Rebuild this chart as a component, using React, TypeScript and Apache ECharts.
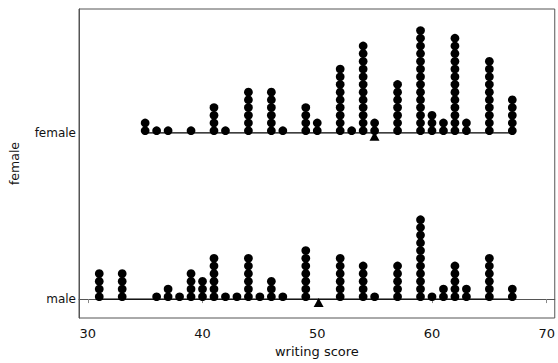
import React, { useEffect, useRef } from "react";
import * as echarts from "echarts";

const groups = ["male", "female"];
const femaleScores = [35, 36, 37, 39, 41, 42, 44, 46, 47, 49, 50, 52, 53, 54, 55, 57, 59, 60, 61, 62, 63, 65, 67];
const femaleCounts = [2, 1, 1, 1, 4, 1, 6, 6, 1, 4, 2, 9, 1, 12, 2, 7, 14, 3, 2, 13, 2, 10, 5];
const maleScores = [31, 33, 36, 37, 38, 39, 40, 41, 42, 43, 44, 45, 46, 47, 49, 52, 54, 55, 57, 59, 60, 61, 62, 63, 65, 67];
const maleCounts = [4, 4, 1, 2, 1, 4, 3, 6, 1, 1, 6, 1, 3, 1, 7, 6, 5, 1, 5, 11, 1, 2, 5, 2, 6, 2];
const groupMeans = [50.12, 54.99]; // male, female
const xTicks = [30, 40, 50, 60, 70];

// y axis in "dot step" units
const BASE = [0, 21.56]; // male, female baseline
const DOT_LIFT = 0.3;
const TRI_DROP = 0.43;

function dots(scores: number[], counts: number[], base: number) {
  const out: number[][] = [];
  scores.forEach((s, i) => {
    for (let k = 0; k < counts[i]; k++) out.push([s, base + DOT_LIFT + k]);
  });
  return out;
}

export default function App() {
  const ref = useRef<HTMLDivElement>(null);
  useEffect(() => {
    document.body.style.margin = "0";
    const chart = echarts.init(ref.current!, null, { renderer: "svg" });
    const font = "DejaVu Sans";
    const dotStyle = { color: "#000", opacity: 1 };
    chart.setOption({
      animation: false,
      backgroundColor: "#fff",
      grid: {
        left: 79,
        top: 9,
        width: 477,
        height: 310,
        show: true,
        borderColor: "#555",
        borderWidth: 1,
        backgroundColor: "transparent",
      },
      xAxis: {
        type: "value",
        min: 29.235,
        max: 70.7,
        splitLine: { show: false },
        axisLine: { show: true, lineStyle: { color: "#555", width: 1 } },
        axisTick: {
          show: true,
          customValues: xTicks,
          length: 4,
          lineStyle: { color: "#888" },
        },
        axisLabel: {
          customValues: xTicks,
          margin: 9,
          color: "#111",
          fontFamily: font,
          fontSize: 13,
        },
        name: "writing score",
        nameLocation: "middle",
        nameGap: 27,
        nameTextStyle: { color: "#111", fontFamily: font, fontSize: 13 },
      },
      yAxis: {
        type: "value",
        min: -2.458,
        max: 37.65,
        splitLine: { show: false },
        axisLine: { show: true, lineStyle: { color: "#555", width: 1 } },
        axisTick: { show: false },
        axisLabel: {
          customValues: BASE,
          formatter: (v: number) => (v > 10 ? groups[1] : groups[0]),
          margin: 3,
          color: "#111",
          fontFamily: font,
          fontSize: 12,
        },
        name: "female",
        nameLocation: "middle",
        nameRotate: 90,
        nameGap: 58,
        nameTextStyle: { color: "#111", fontFamily: font, fontSize: 12.5 },
      },
      series: [
        {
          type: "line",
          data: [
            [Math.min(...maleScores), BASE[0]],
            [Math.max(...maleScores), BASE[0]],
          ],
          symbol: "none",
          lineStyle: { color: "#000", width: 1.3 },
          silent: true,
        },
        {
          type: "line",
          data: [
            [Math.min(...femaleScores), BASE[1]],
            [Math.max(...femaleScores), BASE[1]],
          ],
          symbol: "none",
          lineStyle: { color: "#000", width: 1.3 },
          silent: true,
        },
        {
          type: "scatter",
          data: dots(maleScores, maleCounts, BASE[0]),
          symbol: "circle",
          symbolSize: 8.7,
          itemStyle: dotStyle,
        },
        {
          type: "scatter",
          data: dots(femaleScores, femaleCounts, BASE[1]),
          symbol: "circle",
          symbolSize: 8.7,
          itemStyle: dotStyle,
        },
        {
          type: "scatter",
          data: [
            [groupMeans[0], BASE[0] - TRI_DROP],
            [groupMeans[1], BASE[1] - TRI_DROP],
          ],
          symbol: "triangle",
          symbolSize: [10, 9],
          itemStyle: dotStyle,
        },
      ],
    });
    return () => chart.dispose();
  }, []);
  return <div ref={ref} style={{ width: 558, height: 363 }} />;
}
